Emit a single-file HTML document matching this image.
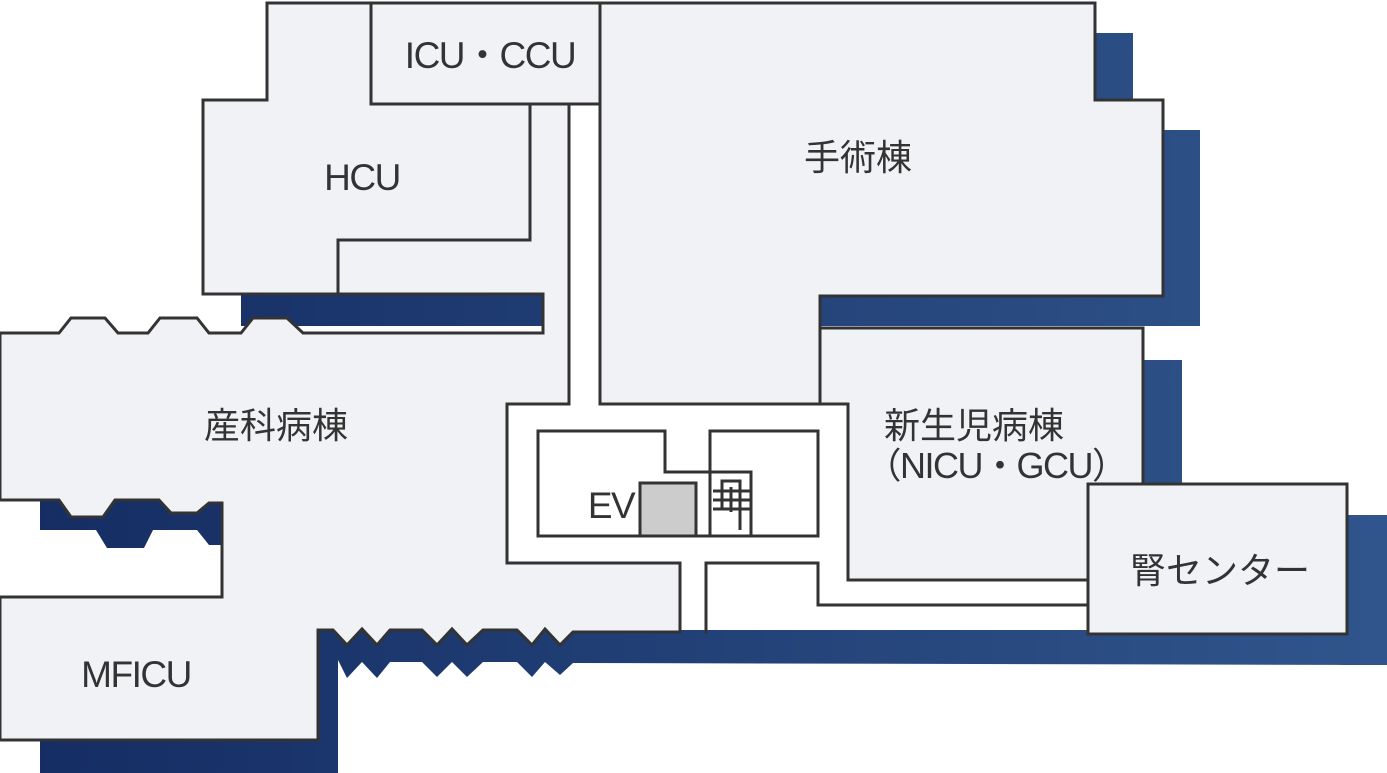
<!DOCTYPE html>
<html><head><meta charset="utf-8"><style>
html,body{margin:0;padding:0;background:#fff;}
svg{display:block;}
text{font-family:"Liberation Sans","Noto Sans CJK JP",sans-serif;fill:#333;}
</style></head><body>
<svg width="1387" height="773" viewBox="0 0 1387 773" xmlns="http://www.w3.org/2000/svg">
<defs>
<linearGradient id="g" gradientUnits="userSpaceOnUse" x1="0" y1="0" x2="1387" y2="0">
<stop offset="0" stop-color="#142c62"/><stop offset="1" stop-color="#30558c"/>
</linearGradient>
</defs>
<g fill="url(#g)">
<rect x="1095" y="33" width="38" height="80"/>
<rect x="1150" y="130" width="50" height="196"/>
<rect x="820" y="290" width="380" height="36"/>
<rect x="1140" y="360" width="42" height="130"/>
<rect x="1340" y="515" width="47" height="150"/>
<rect x="241" y="294" width="302" height="32"/>
<polygon points="40,500 222,500 222,545 209,545 197,530 153,530 144,548 107,548 96,530 40,530"/>
<polygon points="313,630 1387,630 1387,665 573,663 560,675 545,662 532,677 517,662 483,662 467,677 452,662 437,677 422,662 390,662 377,678 362,662 347,678 338,660 338,773 313,773"/>
<rect x="40" y="735" width="298" height="38"/>
</g>
<g fill="#f1f2f6" stroke="#333" stroke-width="3" stroke-linejoin="miter">
<polygon points="0,333 59,333 71,318 105,318 118,333 148,333 160,318 197,318 209,333 241,333 253,318 287,318 303,333 543,333 543,294 338,294 338,240 530,240 530,104 569,104 569,404 507,404 507,563 680,563 680,632 573,632 560,645 545,629 532,645 517,630 483,630 467,645 452,629 437,645 422,630 390,630 377,645 362,629 347,645 333,630 318,630 318,740 0,740 0,597 222,597 222,503 209,503 197,513 171,513 159,500 115,500 103,517 71,517 59,500 0,500"/>
<polygon points="203,100 267,100 267,3 371,3 371,104 530,104 530,240 338,240 338,294 203,294"/>
<rect x="371" y="3" width="229" height="101"/>
<polygon points="600,3 1095,3 1095,100 1163,100 1163,296 820,296 820,404 600,404"/>
<polygon points="820,328 1143,328 1143,484 1088,484 1088,580 848,580 848,404 820,404"/>
<rect x="1088" y="484" width="259" height="150"/>
</g>
<g fill="#fff" stroke="#333" stroke-width="3">
<polyline points="706,634 706,563 818,563 818,605 1088,605" fill="none"/>
<polygon points="538,431 665,431 665,472 710,472 710,536 538,536"/>
<rect x="710" y="431" width="108" height="105"/>
<rect x="710" y="472" width="41" height="64"/>
<rect x="640" y="483" width="56" height="53" fill="#ccc"/>
</g>
<g stroke="#333" stroke-width="3" fill="none">
<polyline points="722,508 722,481 740,481 740,530"/>
<line x1="713" y1="491" x2="750" y2="491"/>
<line x1="713" y1="500" x2="750" y2="500"/>
<line x1="713" y1="509" x2="750" y2="509"/>
<line x1="731" y1="487" x2="731" y2="512"/>
</g>
<g font-size="37" text-anchor="middle" letter-spacing="-1.5">
<text x="490" y="68">ICU・CCU</text>
<text x="362" y="190">HCU</text>
<text x="136" y="687">MFICU</text>
<text x="611" y="518">EV</text>
</g>
<g font-size="36" text-anchor="middle">
<text x="858" y="170">手術棟</text>
<text x="276" y="438">産科病棟</text>
<text x="974" y="438">新生児病棟</text>
<text x="996" y="478" letter-spacing="-1.5">（NICU・GCU）</text>
<text x="1220" y="583">腎センター</text>
</g>
</svg>
</body></html>
